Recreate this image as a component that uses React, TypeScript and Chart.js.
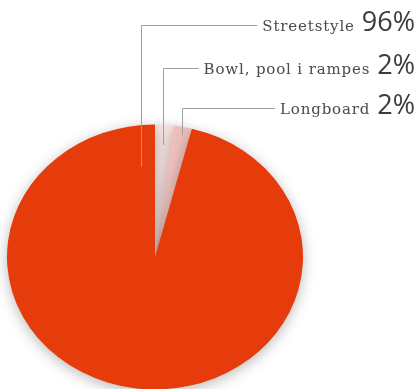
import React, { useEffect, useRef } from "react";
import { Chart, registerables } from "chart.js";

Chart.register(...registerables);

const categories = ["Bowl, pool i rampes", "Longboard", "Streetstyle"];
const values = [2, 2, 96];
const colors = ["#F6E4E2", "#EDC0BC", "#E63B0A"];

// label order top-to-bottom and leader-line layout (annotation geometry)
const labelOrder = ["Streetstyle", "Bowl, pool i rampes", "Longboard"];
const labelLayout = [
  { lineX: 141, lineY: 25, endY: 167, baseline: 31 },
  { lineX: 163, lineY: 68, endY: 145, baseline: 74 },
  { lineX: 182, lineY: 108, endY: 135, baseline: 114 },
];

const Y_SCALE = 0.895;

const ellipsePlugin = {
  id: "ellipse",
  beforeDatasetsDraw(chart: any) {
    const ctx = chart.ctx;
    const arc = chart.getDatasetMeta(0).data[0];
    const cy = arc ? arc.y : 0;
    ctx.save();
    ctx.translate(0, cy);
    ctx.scale(1, Y_SCALE);
    ctx.translate(0, -cy);
    ctx.shadowColor = "rgba(0,0,0,0.28)";
    ctx.shadowBlur = 14;
    ctx.shadowOffsetX = 0;
    ctx.shadowOffsetY = 3;
  },
  afterDatasetsDraw(chart: any) {
    chart.ctx.restore();
  },
};

const labelsPlugin = {
  id: "leaderLabels",
  afterDraw(chart: any) {
    const ctx = chart.ctx;
    const rightX = 415;
    labelOrder.forEach((name, i) => {
      const idx = categories.indexOf(name);
      const pct = `${values[idx]}%`;
      const L = labelLayout[i];
      ctx.save();
      ctx.font = "400 27px 'Open Sans', sans-serif";
      ctx.fillStyle = "#3c3c3c";
      ctx.textAlign = "right";
      ctx.textBaseline = "alphabetic";
      ctx.fillText(pct, rightX, L.baseline);
      const pw = ctx.measureText(pct).width;
      ctx.font = "15px 'DejaVu Serif', serif";
      (ctx as any).letterSpacing = "0.85px";
      ctx.fillStyle = "#4a4a4a";
      const labelRight = rightX - pw - 7;
      ctx.fillText(name, labelRight, L.baseline);
      const lw = ctx.measureText(name).width;
      (ctx as any).letterSpacing = "0px";
      const lineEnd = labelRight - lw - 5;
      ctx.strokeStyle = "#a0a0a0";
      ctx.lineWidth = 1;
      ctx.beginPath();
      ctx.moveTo(lineEnd, L.lineY + 0.5);
      ctx.lineTo(L.lineX + 0.5, L.lineY + 0.5);
      ctx.lineTo(L.lineX + 0.5, L.endY);
      ctx.stroke();
      ctx.restore();
    });
  },
};

export default function App() {
  const ref = useRef<HTMLCanvasElement>(null);
  useEffect(() => {
    if (!ref.current) return;
    const chart = new Chart(ref.current, {
      type: "pie",
      data: {
        labels: categories,
        datasets: [
          {
            data: values,
            backgroundColor: colors,
            borderWidth: 0,
          },
        ],
      },
      options: {
        animation: false,
        responsive: false,
        events: [],
        layout: { padding: { left: 7, right: 116, top: 109, bottom: 15 } },
        plugins: {
          legend: { display: false },
          tooltip: { enabled: false },
        },
      },
      plugins: [ellipsePlugin, labelsPlugin],
    });
    return () => chart.destroy();
  }, []);
  return (
    <div style={{ position: "fixed", left: 0, top: 0, width: 419, height: 389, overflow: "hidden", background: "#fff" }}>
      <canvas ref={ref} width={419} height={420} />
    </div>
  );
}
